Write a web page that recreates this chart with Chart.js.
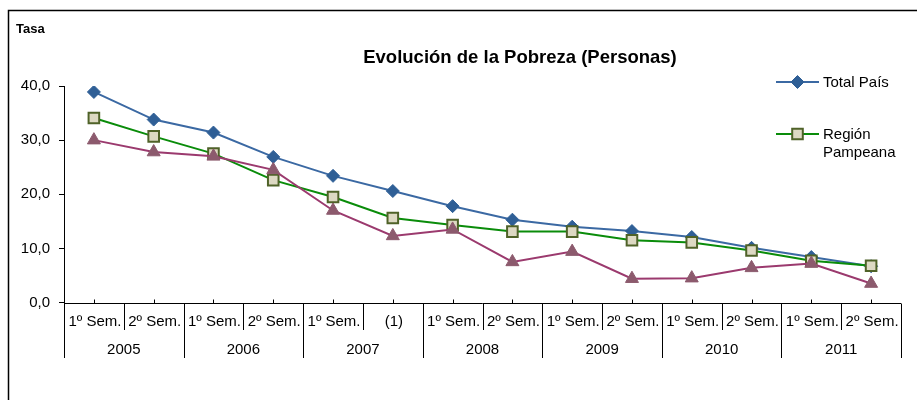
<!DOCTYPE html>
<html>
<head>
<meta charset="utf-8">
<script src="https://cdn.jsdelivr.net/npm/chart.js@4/dist/chart.umd.min.js"></script>
<style>
  html, body { margin: 0; padding: 0; background: #ffffff; }
  canvas { display: block; }
</style>
</head>
<body>
<canvas id="c" width="917" height="400"></canvas>
<script>
// ---- Data ----
const semesters = ['1º Sem.', '2º Sem.', '1º Sem.', '2º Sem.', '1º Sem.', '(1)', '1º Sem.', '2º Sem.',
                   '1º Sem.', '2º Sem.', '1º Sem.', '2º Sem.', '1º Sem.', '2º Sem.'];
const years = ['2005', '2006', '2007', '2008', '2009', '2010', '2011'];
const totalPais = [38.9, 33.8, 31.4, 26.9, 23.4, 20.6, 17.8, 15.3, 14.0, 13.2, 12.1, 10.1, 8.4, 6.7];
const regionPampeana = [34.1, 30.7, 27.5, 22.6, 19.5, 15.6, 14.3, 13.1, 13.1, 11.5, 11.1, 9.6, 7.7, 6.8];
const terceraSerie = [30.0, 27.8, 27.0, 24.5, 17.0, 12.3, 13.5, 7.5, 9.4, 4.4, 4.5, 6.4, 7.2, 3.5];
const yTicks = [0, 10, 20, 30, 40];
const chartTitle = 'Evolución de la Pobreza (Personas)';
const yTitle = 'Tasa';
const legendNames = ['Total País', ['Región', 'Pampeana']];

const FONT = "'Liberation Sans', Arial, sans-serif";

const decorations = {
  id: 'decorations',
  beforeDatasetsDraw(chart) {
    const ctx = chart.ctx;
    const area = chart.chartArea;
    const xs = chart.scales.x;
    const n = semesters.length;
    const w = (area.right - area.left) / n;
    ctx.save();
    ctx.strokeStyle = '#000';
    ctx.lineWidth = 1;
    const yb = Math.round(area.bottom) + 0.5;
    ctx.beginPath();
    ctx.moveTo(area.left, yb);
    ctx.lineTo(area.right, yb);
    ctx.stroke();
    for (let i = 0; i < n; i++) {
      const x = Math.round(xs.getPixelForValue(i)) + 0.5;
      ctx.beginPath();
      ctx.moveTo(x, yb - 4);
      ctx.lineTo(x, yb);
      ctx.stroke();
    }
    for (let i = 0; i <= n; i++) {
      const x = Math.round(area.left + i * w) + 0.5;
      const yEnd = (i % 2 === 0) ? 358 : 330;
      ctx.beginPath();
      ctx.moveTo(x, yb);
      ctx.lineTo(x, yEnd);
      ctx.stroke();
    }
    ctx.fillStyle = '#000';
    ctx.font = '15px ' + FONT;
    ctx.textAlign = 'center';
    ctx.textBaseline = 'middle';
    for (let i = 0; i < n; i++) {
      ctx.fillText(semesters[i], xs.getPixelForValue(i) + 1, 322);
    }
    for (let j = 0; j < years.length; j++) {
      const xc = (xs.getPixelForValue(2 * j) + xs.getPixelForValue(2 * j + 1)) / 2;
      ctx.fillText(years[j], xc, 350);
    }
    ctx.restore();
  },
  afterDraw(chart) {
    const ctx = chart.ctx;
    ctx.save();
    ctx.strokeStyle = '#000';
    ctx.lineWidth = 1.5;
    ctx.beginPath();
    ctx.moveTo(8.5, 400);
    ctx.lineTo(8.5, 10.5);
    ctx.lineTo(917, 10.5);
    ctx.stroke();
    ctx.fillStyle = '#000';
    ctx.textBaseline = 'middle';
    ctx.textAlign = 'center';
    ctx.font = 'bold 18.5px ' + FONT;
    ctx.fillText(chartTitle, 520, 58);
    ctx.textAlign = 'left';
    ctx.font = 'bold 13px ' + FONT;
    ctx.fillText(yTitle, 16, 29);
    const entries = [
      { ds: chart.data.datasets[0], y: 82, lines: [legendNames[0]] },
      { ds: chart.data.datasets[1], y: 134, lines: legendNames[1] }
    ];
    ctx.font = '15px ' + FONT;
    entries.forEach(e => {
      ctx.strokeStyle = e.ds.borderColor;
      ctx.lineWidth = e.ds.borderWidth;
      ctx.beginPath();
      ctx.moveTo(776, e.y);
      ctx.lineTo(819, e.y);
      ctx.stroke();
      ctx.fillStyle = e.ds.pointBackgroundColor;
      ctx.strokeStyle = e.ds.pointBorderColor;
      ctx.lineWidth = e.ds.pointBorderWidth;
      Chart.helpers.drawPoint(ctx, { pointStyle: e.ds.pointStyle, radius: e.ds.pointRadius, borderWidth: e.ds.pointBorderWidth, rotation: 0 }, 797.5, e.y);
      ctx.fillStyle = '#000';
      e.lines.forEach((t, k) => ctx.fillText(t, 823, e.y + 1 + k * 18));
    });
    ctx.restore();
  }
};

new Chart(document.getElementById('c'), {
  type: 'line',
  data: {
    labels: semesters,
    datasets: [
      {
        label: legendNames[0],
        data: totalPais,
        borderColor: '#3B69A3',
        borderWidth: 2,
        pointStyle: 'rectRot',
        pointRadius: 6.5,
        pointHoverRadius: 6.5,
        pointBackgroundColor: '#2F5F96',
        pointBorderColor: '#2F5F96',
        pointBorderWidth: 1,
        tension: 0,
        order: 3
      },
      {
        label: legendNames[1].join(' '),
        data: regionPampeana,
        borderColor: '#0A8C0A',
        borderWidth: 2,
        pointStyle: 'rect',
        pointRadius: 7.5,
        pointHoverRadius: 7.5,
        pointBackgroundColor: '#DDD9C3',
        pointBorderColor: '#4F6228',
        pointBorderWidth: 2,
        tension: 0,
        order: 2
      },
      {
        label: 'Serie 3',
        data: terceraSerie,
        borderColor: '#9B3A6E',
        borderWidth: 2,
        pointStyle: 'triangle',
        pointRadius: 7.5,
        pointHoverRadius: 7.5,
        pointBackgroundColor: '#8C5A6D',
        pointBorderColor: '#8C5A6D',
        pointBorderWidth: 1,
        tension: 0,
        order: 1
      }
    ]
  },
  options: {
    responsive: false,
    devicePixelRatio: 1,
    animation: false,
    events: [],
    layout: { padding: { top: 86, bottom: 97.5, left: 0, right: 16 } },
    plugins: {
      legend: { display: false },
      title: { display: false },
      tooltip: { enabled: false }
    },
    scales: {
      x: {
        type: 'category',
        offset: true,
        display: false
      },
      y: {
        min: 0,
        max: 40,
        afterBuildTicks(scale) {
          scale.ticks = yTicks.map(v => ({ value: v }));
        },
        afterFit(scale) { scale.width = 64; },
        border: { display: true, color: '#000', width: 1 },
        grid: { drawOnChartArea: false, drawTicks: true, tickLength: 5, color: '#000' },
        ticks: {
          color: '#000',
          padding: 9,
          font: { family: FONT, size: 15 },
          callback: v => v.toFixed(1).replace('.', ',')
        }
      }
    }
  },
  plugins: [decorations]
});
</script>
</body>
</html>
